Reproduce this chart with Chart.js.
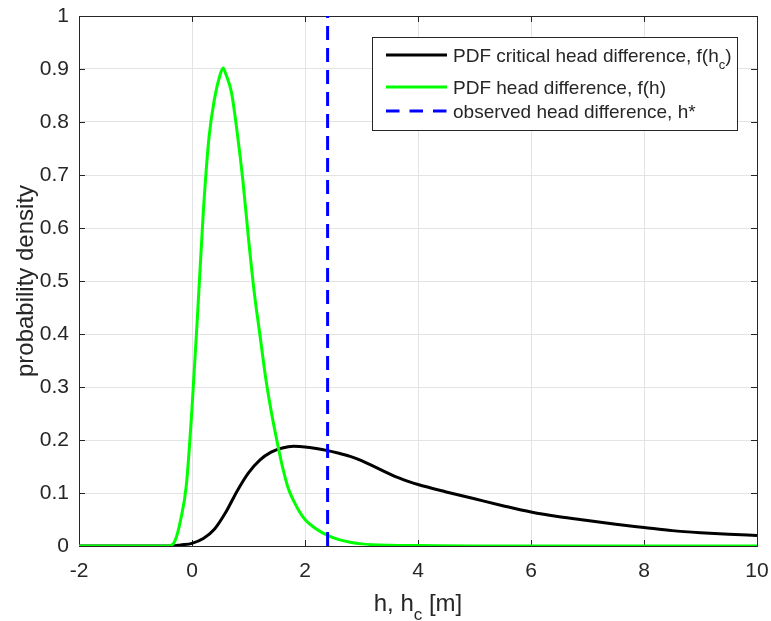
<!DOCTYPE html>
<html>
<head>
<meta charset="utf-8">
<script src="https://cdn.jsdelivr.net/npm/chart.js@4.4.1/dist/chart.umd.min.js"></script>
<style>
  html, body { margin: 0; padding: 0; background: #fff; }
  #wrap { width: 771px; height: 621px; }
</style>
</head>
<body>
<div id="wrap"><canvas id="pdf-chart" width="771" height="621"></canvas></div>
<script>
// PDF of the head difference h (green curve)
const hX   = [-2, -1, -0.4, -0.3, -0.2, -0.1, 0, 0.1, 0.2, 0.3, 0.4, 0.5, 0.55, 0.6, 0.7, 0.8, 0.9, 1.0, 1.1, 1.2, 1.3, 1.4, 1.5, 1.6, 1.7, 1.8, 1.9, 2.0, 2.2, 2.4, 2.6, 2.8, 3.0, 3.5, 4, 5, 10];
const hPdf = [0, 0, 0, 0.01, 0.05, 0.115, 0.26, 0.44, 0.63, 0.77, 0.845, 0.89, 0.902, 0.89, 0.855, 0.78, 0.69, 0.58, 0.48, 0.40, 0.32, 0.255, 0.2, 0.15, 0.11, 0.085, 0.065, 0.05, 0.032, 0.02, 0.012, 0.007, 0.004, 0.0015, 0.001, 0, 0];

// PDF of the critical head difference h_c (black curve)
const hcX   = [-2, -0.35, -0.2, 0, 0.2, 0.4, 0.6, 0.8, 1.0, 1.2, 1.4, 1.6, 1.8, 2.0, 2.2, 2.4, 2.6, 2.8, 3.0, 3.2, 3.4, 3.6, 3.8, 4.0, 4.5, 5.0, 5.5, 6.0, 6.5, 7.0, 7.5, 8.0, 8.5, 9.0, 9.5, 10];
const hcPdf = [0, 0, 0.002, 0.005, 0.014, 0.032, 0.064, 0.104, 0.138, 0.162, 0.177, 0.185, 0.188, 0.187, 0.184, 0.18, 0.175, 0.169, 0.161, 0.151, 0.141, 0.131, 0.123, 0.116, 0.102, 0.089, 0.076, 0.064, 0.055, 0.048, 0.041, 0.035, 0.029, 0.025, 0.022, 0.02];

// observed head difference h*
const observedH = 2.4;

const xTicks = [-2, 0, 2, 4, 6, 8, 10];
const yTicks = [0, 0.1, 0.2, 0.3, 0.4, 0.5, 0.6, 0.7, 0.8, 0.9, 1];

const legendLabels = ['PDF critical head difference, f(h_c)', 'PDF head difference, f(h)', 'observed head difference, h*'];
const xTitle = 'h, h_c [m]';
const yTitle = 'probability density';

const FONT = '"Liberation Sans", Arial, sans-serif';
const AXIS_COLOR = '#262626';

const toPoints = (xs, ys) => xs.map((x, i) => ({ x: x, y: ys[i] }));

// draws text with "_x" turned into a subscript x
function drawTexText(ctx, text, x, y, size, align) {
  const parts = [];
  let buf = '';
  for (let i = 0; i < text.length; i++) {
    if (text[i] === '_' && i + 1 < text.length) {
      if (buf) parts.push({ t: buf, sub: false });
      parts.push({ t: text[i + 1], sub: true });
      buf = '';
      i++;
    } else {
      buf += text[i];
    }
  }
  if (buf) parts.push({ t: buf, sub: false });
  const subSize = Math.round(size * 0.7);
  let total = 0;
  parts.forEach(p => {
    ctx.font = (p.sub ? subSize : size) + 'px ' + FONT;
    p.w = ctx.measureText(p.t).width;
    total += p.w;
  });
  let cx = align === 'center' ? x - total / 2 : x;
  ctx.textAlign = 'left';
  ctx.textBaseline = 'alphabetic';
  parts.forEach(p => {
    ctx.font = (p.sub ? subSize : size) + 'px ' + FONT;
    ctx.fillText(p.t, cx, p.sub ? y + size * 0.38 : y);
    cx += p.w;
  });
}

// box with inward ticks on all four sides, like a MATLAB axes
const axesBox = {
  id: 'axesBox',
  beforeDatasetsDraw(chart) {
    const { ctx, chartArea: a, scales } = chart;
    ctx.save();
    ctx.strokeStyle = AXIS_COLOR;
    ctx.lineWidth = 1;
    ctx.strokeRect(Math.round(a.left) + 0.5, Math.round(a.top) + 0.5, Math.round(a.right - a.left), Math.round(a.bottom - a.top));
    ctx.beginPath();
    xTicks.forEach(v => {
      const px = Math.round(scales.x.getPixelForValue(v)) + 0.5;
      ctx.moveTo(px, a.bottom); ctx.lineTo(px, a.bottom - 6);
      ctx.moveTo(px, a.top); ctx.lineTo(px, a.top + 6);
    });
    yTicks.forEach(v => {
      const py = Math.round(scales.y.getPixelForValue(v)) + 0.5;
      ctx.moveTo(a.left, py); ctx.lineTo(a.left + 6, py);
      ctx.moveTo(a.right, py); ctx.lineTo(a.right - 6, py);
    });
    ctx.stroke();
    ctx.restore();
  },
  afterDraw(chart) {
    const { ctx, chartArea: a } = chart;
    ctx.save();
    ctx.fillStyle = AXIS_COLOR;
    drawTexText(ctx, xTitle, (a.left + a.right) / 2, 611, 24, 'center');
    ctx.translate(33, (a.top + a.bottom) / 2);
    ctx.rotate(-Math.PI / 2);
    drawTexText(ctx, yTitle, 0, 0, 24, 'center');
    ctx.restore();

    // legend
    const ds = chart.data.datasets;
    ctx.save();
    ctx.fillStyle = '#fff';
    ctx.fillRect(372.5, 37.5, 365, 93);
    ctx.strokeStyle = AXIS_COLOR;
    ctx.lineWidth = 1;
    ctx.strokeRect(372.5, 37.5, 365, 93);
    const rowsY = [55, 87, 111];
    const textY = [62, 94, 118];
    legendLabels.forEach((lab, i) => {
      ctx.beginPath();
      ctx.strokeStyle = ds[i].borderColor;
      ctx.lineWidth = 3;
      ctx.setLineDash(ds[i].borderDash ? [13.5, 10] : []);
      ctx.moveTo(386, rowsY[i]);
      ctx.lineTo(447, rowsY[i]);
      ctx.stroke();
      ctx.setLineDash([]);
      ctx.fillStyle = AXIS_COLOR;
      drawTexText(ctx, lab, 453, textY[i], 19, 'left');
    });
    ctx.restore();
  }
};

// fixed scale sizes; labels may spill into the layout padding
function fixScale(size) {
  return s => {
    if (s.isHorizontal()) s.height = size; else s.width = size;
    s.paddingLeft = 0; s.paddingRight = 0;
    s.paddingTop = 0; s.paddingBottom = 0;
  };
}

const ctx = document.getElementById('pdf-chart').getContext('2d');
new Chart(ctx, {
  type: 'line',
  data: {
    datasets: [
      {
        label: legendLabels[0],
        data: toPoints(hcX, hcPdf),
        borderColor: '#000000',
        borderWidth: 3,
        cubicInterpolationMode: 'monotone',
        order: 3
      },
      {
        label: legendLabels[1],
        data: toPoints(hX, hPdf),
        borderColor: '#00ff00',
        borderWidth: 3,
        cubicInterpolationMode: 'monotone',
        order: 2
      },
      {
        label: legendLabels[2],
        data: [{ x: observedH, y: 0 }, { x: observedH, y: 1 }],
        borderColor: '#0000ff',
        borderWidth: 3,
        borderDash: [14, 8],
        order: 1
      }
    ]
  },
  options: {
    responsive: false,
    devicePixelRatio: 1,
    animation: false,
    layout: { padding: { top: 16, right: 14, left: 0, bottom: 0 } },
    elements: { point: { radius: 0 } },
    plugins: { legend: { display: false }, tooltip: { enabled: false } },
    scales: {
      x: {
        type: 'linear',
        min: -2, max: 10,
        afterBuildTicks: s => { s.ticks = xTicks.map(v => ({ value: v })); },
        afterFit: fixScale(75),
        grid: { color: '#e3e3e3', drawTicks: false },
        border: { display: false },
        ticks: {
          padding: 13,
          color: AXIS_COLOR,
          font: { family: FONT, size: 21 },
          maxRotation: 0,
          callback: v => String(v)
        }
      },
      y: {
        type: 'linear',
        min: 0, max: 1,
        afterBuildTicks: s => { s.ticks = yTicks.map(v => ({ value: v })); },
        afterFit: fixScale(79),
        grid: { color: '#e3e3e3', drawTicks: false },
        border: { display: false },
        ticks: {
          padding: 10,
          color: AXIS_COLOR,
          font: { family: FONT, size: 21 },
          callback: v => String(Number(v.toFixed(1)))
        }
      }
    }
  },
  plugins: [axesBox]
});
</script>
</body>
</html>
